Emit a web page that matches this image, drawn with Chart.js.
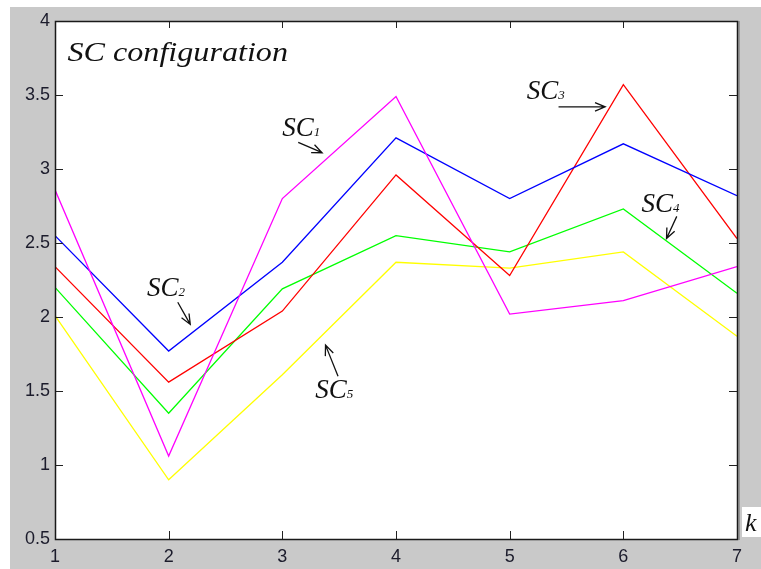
<!DOCTYPE html>
<html>
<head>
<meta charset="utf-8">
<title>SC configuration</title>
<script src="https://cdn.jsdelivr.net/npm/chart.js@4.4.1/dist/chart.umd.min.js"></script>
<style>
  html, body { margin: 0; padding: 0; background: #fff; }
  #wrap { width: 761px; height: 569px; }
</style>
</head>
<body>
<div id="wrap"><canvas id="myChart" width="761" height="569"></canvas></div>
<script>
const ctx = document.getElementById('myChart');

// k values on the x axis
const kValues = [1, 2, 3, 4, 5, 6, 7]

// series values
const sc1 = [2.86, 1.06, 2.80, 3.49, 2.02, 2.11, 2.34] // magenta
const sc2 = [2.55, 1.77, 2.37, 3.21, 2.80, 3.17, 2.82] // blue
const sc3 = [2.34, 1.56, 2.04, 2.96, 2.28, 3.57, 2.53] // red
const sc4 = [2.20, 1.35, 2.19, 2.55, 2.44, 2.73, 2.16] // green
const sc5 = [2.01, 0.90, 1.61, 2.37, 2.33, 2.44, 1.87] // yellow

const yTicks = [0.5, 1, 1.5, 2, 2.5, 3, 3.5, 4]

// text labels, placed in data units: [text, subscript, x, y, horizontal stretch]
const labels = [
  ['SC configuration', '', 1.11, 3.73, 1.19],
  ['SC', '1', 3.00, 3.22, 1],
  ['SC', '2', 1.81, 2.14, 1],
  ['SC', '3', 5.15, 3.47, 1],
  ['SC', '4', 6.16, 2.71, 1],
  ['SC', '5', 3.29, 1.45, 1]
]
// arrows: [x1, y1, x2, y2] in data units (head at the second point)
const arrows = [
  [3.14, 3.18, 3.35, 3.11],
  [2.08, 2.10, 2.19, 1.95],
  [5.43, 3.42, 5.84, 3.42],
  [6.47, 2.68, 6.38, 2.53],
  [3.49, 1.60, 3.38, 1.81]
]

function toPoints(arr) {
  return arr.map((v, i) => ({ x: kValues[i], y: v }))
}

function arrow(c, x1, y1, x2, y2) {
  const a = Math.atan2(y2 - y1, x2 - x1)
  const h = 11
  c.beginPath()
  c.moveTo(x1, y1)
  c.lineTo(x2, y2)
  c.moveTo(x2 - h * Math.cos(a - 0.4), y2 - h * Math.sin(a - 0.4))
  c.lineTo(x2, y2)
  c.lineTo(x2 - h * Math.cos(a + 0.4), y2 - h * Math.sin(a + 0.4))
  c.stroke()
}

const matlabLook = {
  id: 'matlabLook',
  beforeDraw(chart) {
    const c = chart.ctx
    const a = chart.chartArea
    c.save()
    c.fillStyle = '#ffffff'
    c.fillRect(0, 0, chart.width, chart.height)
    c.fillStyle = '#c9c9c9'
    c.fillRect(10, 7, chart.width - 10, chart.height - 7)
    c.fillStyle = '#ffffff'
    c.fillRect(a.left, a.top, a.right - a.left, a.bottom - a.top)
    c.restore()
  },
  afterDraw(chart) {
    const c = chart.ctx
    const a = chart.chartArea
    const xs = chart.scales.x
    const ys = chart.scales.y
    c.save()
    // inward ticks on all four sides
    c.strokeStyle = '#222'
    c.lineWidth = 1
    c.beginPath()
    xs.ticks.forEach(t => {
      const px = Math.round(xs.getPixelForValue(t.value)) + 0.5
      c.moveTo(px, a.bottom); c.lineTo(px, a.bottom - 8)
      c.moveTo(px, a.top); c.lineTo(px, a.top + 7)
    })
    ys.ticks.forEach(t => {
      const py = Math.round(ys.getPixelForValue(t.value)) + 0.5
      c.moveTo(a.left, py); c.lineTo(a.left + 8, py)
      c.moveTo(a.right, py); c.lineTo(a.right - 8, py)
    })
    c.stroke()
    // box
    c.strokeStyle = '#1a1a1a'
    c.lineWidth = 1.5
    c.strokeRect(a.left + 0.5, a.top + 0.5, a.right - a.left, a.bottom - a.top)
    c.strokeStyle = '#666'
    c.lineWidth = 1
    c.beginPath()
    c.moveTo(a.right + 2, a.top); c.lineTo(a.right + 2, a.bottom + 1)
    c.stroke()

    // text labels
    c.fillStyle = '#111'
    c.textBaseline = 'alphabetic'
    c.textAlign = 'left'
    labels.forEach(l => {
      const px = xs.getPixelForValue(l[2])
      const py = ys.getPixelForValue(l[3])
      c.save()
      c.translate(px, py)
      c.scale(l[4], 1)
      c.font = 'italic 27px "Liberation Serif", "Times New Roman", serif'
      c.fillText(l[0], 0, 0)
      if (l[1]) {
        const w = c.measureText(l[0]).width
        c.font = 'italic 13px "Liberation Serif", "Times New Roman", serif'
        c.fillText(l[1], w, 0)
      }
      c.restore()
    })
    // arrows
    c.strokeStyle = '#111'
    c.lineWidth = 1.3
    arrows.forEach(r => {
      arrow(c, xs.getPixelForValue(r[0]), ys.getPixelForValue(r[1]),
        xs.getPixelForValue(r[2]), ys.getPixelForValue(r[3]))
    })
    // k axis label in its little white box
    c.fillStyle = '#ffffff'
    c.fillRect(a.right + 5, a.bottom - 32, chart.width - a.right - 5, 30)
    c.fillStyle = '#111'
    c.font = 'italic 26px "Liberation Serif", "Times New Roman", serif'
    c.fillText('k', a.right + 8, a.bottom - 8)
    c.restore()
  }
}

function ds(label, data, color) {
  return {
    label: label,
    data: toPoints(data),
    borderColor: color,
    backgroundColor: color,
    borderWidth: 1.3,
    pointRadius: 0,
    tension: 0,
    fill: false
  }
}

const tickFont = { family: '"Liberation Sans", Arial, sans-serif', size: 18 }

const mychart = new Chart(ctx, {
  type: 'line',
  data: {
    datasets: [
      ds('SC1', sc1, '#ff00ff'),
      ds('SC2', sc2, '#0000ff'),
      ds('SC3', sc3, '#ff0000'),
      ds('SC4', sc4, '#00ff00'),
      ds('SC5', sc5, '#ffff00')
    ]
  },
  options: {
    responsive: false,
    animation: false,
    layout: { padding: { left: 0, right: 24, top: 21, bottom: 0 } },
    plugins: { legend: { display: false }, tooltip: { enabled: false } },
    scales: {
      x: {
        type: 'linear',
        min: 1,
        max: 7,
        grid: { display: false, drawTicks: false },
        border: { display: false },
        ticks: {
          stepSize: 1,
          padding: 7,
          color: '#1c1c2c',
          font: tickFont,
          callback: v => String(v)
        },
        afterFit: s => { s.height = 30 }
      },
      y: {
        type: 'linear',
        min: 0.5,
        max: 4,
        grid: { display: false, drawTicks: false },
        border: { display: false },
        afterBuildTicks: s => { s.ticks = yTicks.map(v => ({ value: v })) },
        ticks: {
          padding: 5,
          color: '#1c1c2c',
          font: tickFont,
          callback: v => String(v)
        },
        afterFit: s => { s.width = 55 }
      }
    }
  },
  plugins: [matlabLook]
});
</script>
</body>
</html>
